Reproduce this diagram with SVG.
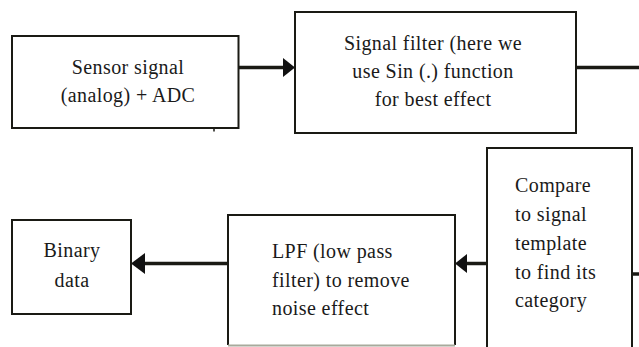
<svg xmlns="http://www.w3.org/2000/svg" width="639" height="347" viewBox="0 0 639 347">
<defs>
<style>
.box{fill:#fff;stroke:#1a1a14;stroke-width:2}
.t{font-family:"Liberation Serif","Times New Roman",serif;font-size:20px;fill:#1a1a1a;letter-spacing:0.4px}
.c{text-anchor:middle}
.conn{stroke:#1a1a14;stroke-width:3.5;fill:none}
.head{fill:#111}
</style>
</defs>
<rect width="639" height="347" fill="#fff"/>
<g id="connectors">
<line class="conn" x1="239" y1="67.5" x2="285" y2="67.5"/>
<polygon class="head" points="295,67.5 283,58 283,77"/>
<line class="conn" x1="576" y1="67.5" x2="639" y2="67.5"/>
<line class="conn" x1="632" y1="274" x2="639" y2="274"/>
<line class="conn" x1="487" y1="263.5" x2="465" y2="263.5"/>
<polygon class="head" points="455,263.5 467,254 467,273"/>
<line class="conn" x1="228" y1="263.5" x2="142" y2="263.5"/>
<polygon class="head" points="131,263.5 145,253 145,274"/>
<line x1="214" y1="128" x2="214" y2="131.5" stroke="#1a1a14" stroke-width="1.5"/>
</g>
<g id="sensor">
<rect class="box" x="12" y="36" width="226.5" height="92"/>
<text class="t c" x="128" y="74">Sensor signal</text>
<text class="t c" x="128" y="101.5">(analog) + ADC</text>
</g>
<g id="filter">
<rect class="box" x="295" y="12" width="281" height="121"/>
<text class="t c" x="433" y="50">Signal filter (here we</text>
<text class="t c" x="433" y="77.5">use Sin (.) function</text>
<text class="t c" x="433" y="106">for best effect</text>
</g>
<g id="compare">
<path class="box" d="M487,348 V148 H632 V348"/>
<text class="t" x="515" y="192">Compare</text>
<text class="t" x="515" y="221">to signal</text>
<text class="t" x="515" y="250">template</text>
<text class="t" x="515" y="278.5">to find its</text>
<text class="t" x="515" y="307">category</text>
</g>
<g id="lpf">
<path class="box" d="M228,345 V215 H455 V345"/>
<line x1="228" y1="345.5" x2="455" y2="345.5" stroke="#a8aa9c" stroke-width="2"/>
<text class="t" x="272" y="257.5">LPF (low pass</text>
<text class="t" x="272" y="286.5">filter) to remove</text>
<text class="t" x="272" y="315">noise effect</text>
</g>
<g id="binary">
<rect class="box" x="12" y="220" width="119" height="94"/>
<text class="t c" x="72" y="257">Binary</text>
<text class="t c" x="72" y="286.5">data</text>
</g>
</svg>
